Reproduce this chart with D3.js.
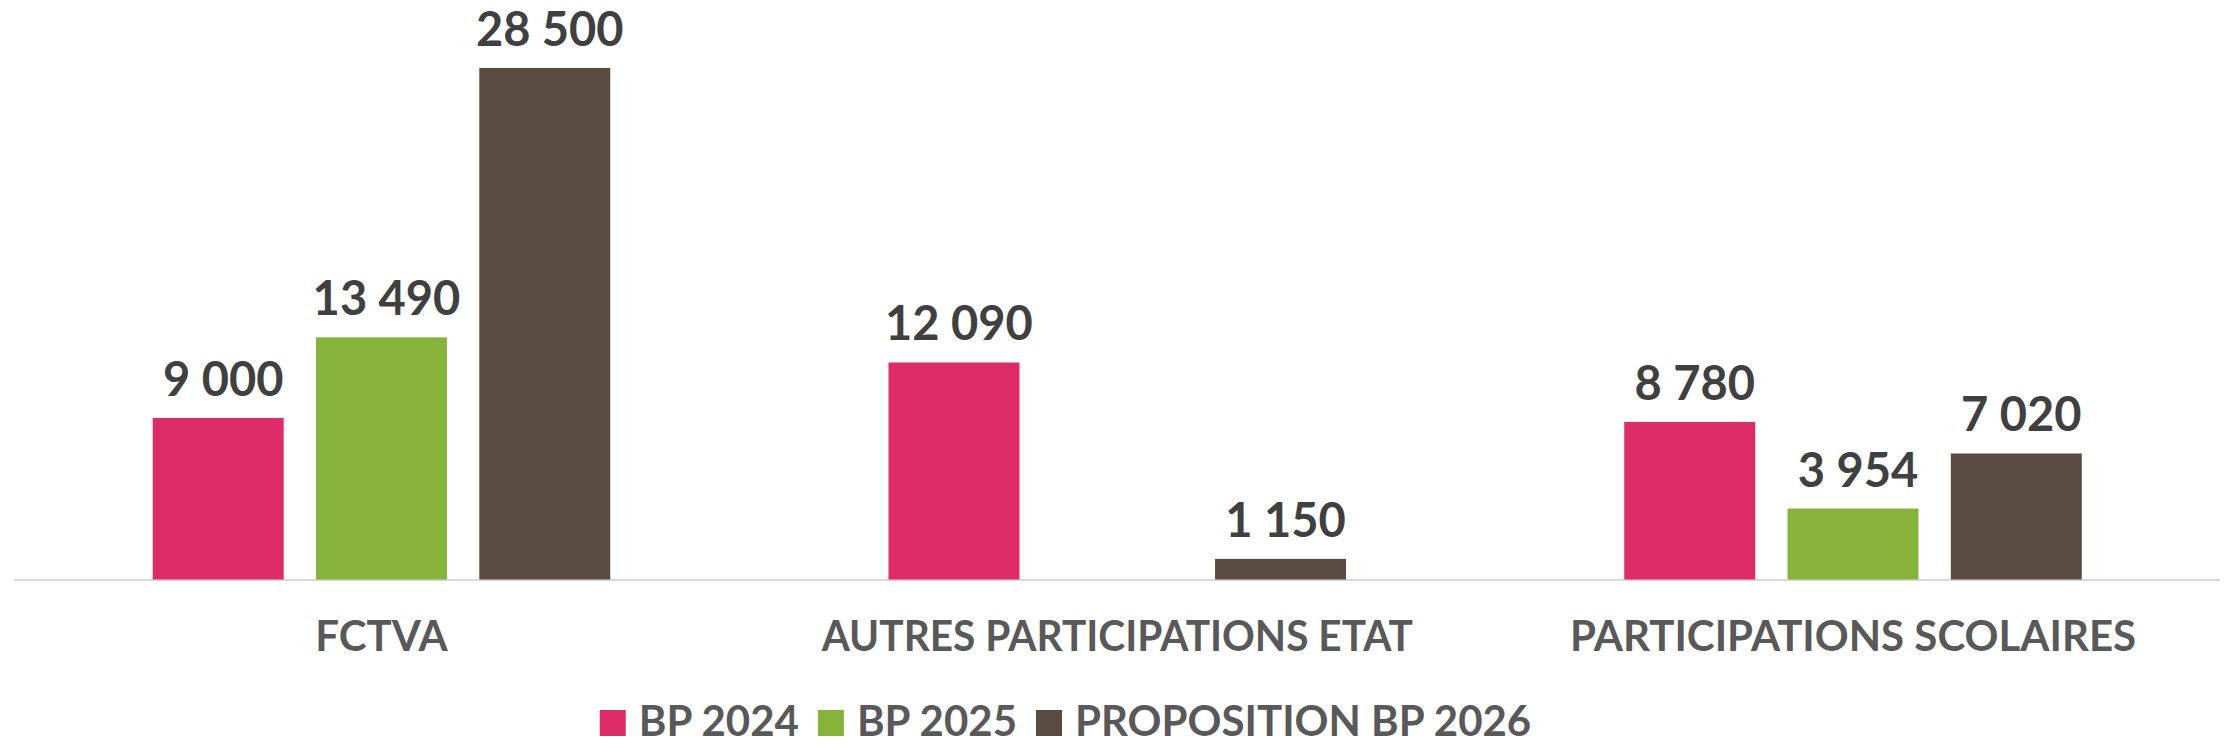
<!DOCTYPE html>
<html>
<head>
<meta charset="utf-8">
<script src="https://cdn.jsdelivr.net/npm/d3@7"></script>
<style>
  html, body { margin: 0; padding: 0; background: #ffffff; }
  svg { display: block; }
  text { font-family: "Lato", "Open Sans", sans-serif; font-weight: 700; }
</style>
</head>
<body>
<svg id="chart" width="2224" height="745"></svg>
<script>
// ---- data ----
const categories = ["FCTVA", "AUTRES PARTICIPATIONS ETAT", "PARTICIPATIONS SCOLAIRES"];
const seriesNames = ["BP 2024", "BP 2025", "PROPOSITION BP 2026"];
const bp2024 = [9000, 12090, 8780];
const bp2025 = [13490, null, 3954];
const bp2026 = [28500, 1150, 7020];
const seriesColors = ["#DD2C68", "#86B43B", "#5A4B40"];

const seriesValues = [bp2024, bp2025, bp2026];
const fmt = v => d3.format(",")(v).replace(/,/g, " ");

const svg = d3.select("#chart");

const baseY = 579.5;
const y = d3.scaleLinear().domain([0, 30000]).range([baseY, 41]);
const x0 = d3.scaleBand().domain(categories).range([13.6, 2220.9]).paddingInner(0).paddingOuter(0);
const x1 = d3.scaleBand().domain(seriesNames).range([0, x0.bandwidth()]).paddingInner(0.198).paddingOuter(0.852);

// baseline
svg.append("line")
  .attr("x1", 14).attr("x2", 2220)
  .attr("y1", baseY + 0.5).attr("y2", baseY + 0.5)
  .attr("stroke", "#d9d9d9").attr("stroke-width", 2);

// bars
const groups = svg.append("g").selectAll("g")
  .data(categories)
  .join("g")
  .attr("transform", d => `translate(${x0(d)},0)`);

const cells = groups.selectAll("g.cell")
  .data((c, ci) => seriesNames.map((s, si) => ({ s, si, v: seriesValues[si][ci] })).filter(d => d.v != null))
  .join("g").attr("class", "cell");

cells.append("rect")
  .attr("x", d => x1(d.s))
  .attr("width", x1.bandwidth())
  .attr("y", d => y(d.v))
  .attr("height", d => baseY - y(d.v))
  .attr("fill", d => seriesColors[d.si]);

cells.append("text")
  .attr("x", d => x1(d.s) + x1.bandwidth() / 2 + 5)
  .attr("y", d => y(d.v) - 22)
  .attr("text-anchor", "middle")
  .attr("font-size", 47)
  .attr("font-weight", 900)
  .attr("fill", "#404040")
  .text(d => fmt(d.v));

// category axis labels
const xAxis = d3.axisBottom(x0).tickSize(0).tickPadding(0);
const ax = svg.append("g").attr("transform", `translate(0,${baseY})`).call(xAxis);
ax.select(".domain").remove();
ax.selectAll("text")
  .attr("y", 71.5)
  .attr("dy", 0)
  .attr("font-size", 42)
  .attr("font-family", "Lato, sans-serif")
  .attr("font-weight", 700)
  .attr("fill", "#595959")
  .each(function () {
    const w = this.getComputedTextLength();
    if (w > 580) d3.select(this).attr("textLength", w * 0.967).attr("lengthAdjust", "spacingAndGlyphs");
  });

// legend
const legend = svg.append("g");
let lx = 0;
seriesNames.forEach((name, i) => {
  const g = legend.append("g").attr("transform", `translate(${lx},0)`);
  g.append("rect").attr("x", 0).attr("y", 710).attr("width", 26).attr("height", 26).attr("fill", seriesColors[i]);
  const t = g.append("text").attr("x", 39).attr("y", 736)
    .attr("font-size", 42).attr("fill", "#595959").text(name);
  const w = t.node().getComputedTextLength();
  lx += 39 + w + 19;
});
const totalW = lx - 19;
legend.attr("transform", `translate(${(613 + 1518) / 2 - totalW / 2},0)`);
</script>
</body>
</html>
